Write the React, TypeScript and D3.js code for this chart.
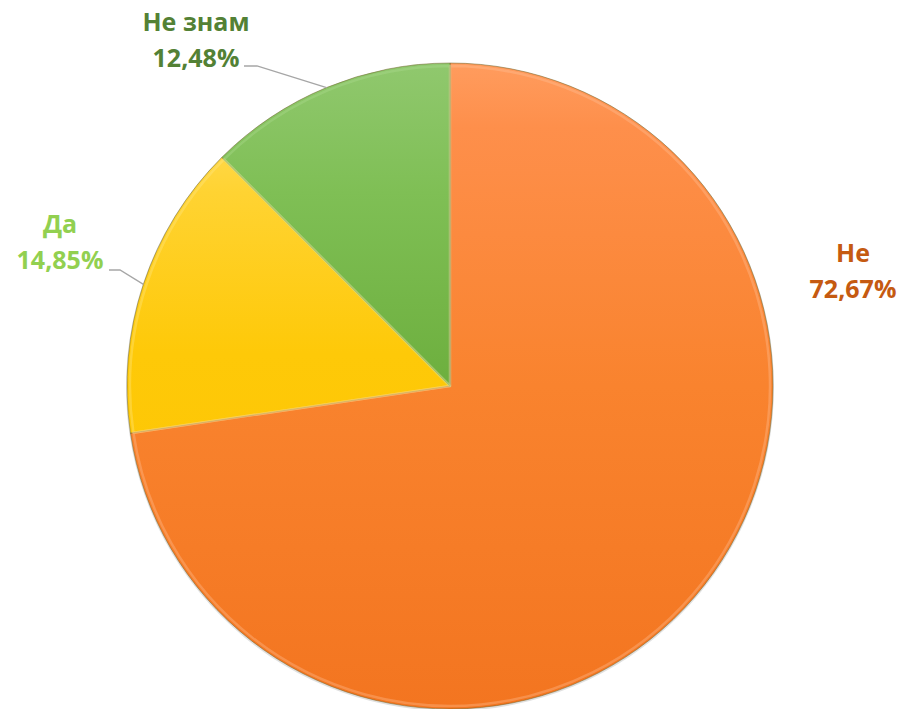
import React from "react";
import * as d3 from "d3";

const categories = ["Не", "Да", "Не знам"];
const values = [72.67, 14.85, 12.48];
const valueLabels = ["72,67%", "14,85%", "12,48%"];

const W = 904, H = 709;
const cx = 450, cy = 386, R = 323;

const palette = [
  { stops: [[0, "#FF9C5E"], [0.1, "#FE8F4B"], [0.5, "#F9832E"], [1, "#F37520"]], edge: "#FFC49A", text: "#C55A11" },
  { stops: [[0, "#FFE274"], [0.2, "#FFD332"], [0.45, "#FEC908"], [1, "#FCC300"]], edge: "#FFE98A", text: "#92D050" },
  { stops: [[0, "#90C86E"], [0.2, "#7FBF55"], [0.5, "#6DAF3E"], [1, "#64A636"]], edge: "#B0DC92", text: "#538135" },
];

export default function App() {
  const pie = d3.pie<number>().sort(null).startAngle(0).endAngle(2 * Math.PI);
  const arcs = pie(values);
  const arc = d3.arc<d3.PieArcDatum<number>>().innerRadius(0).outerRadius(R);
  const arcInner = d3.arc<d3.PieArcDatum<number>>().innerRadius(0).outerRadius(R - 3);

  const labelLayout: { x: number; y: number; leader?: [number, number][] }[] = [];
  arcs.forEach((a, i) => {
    const mid = (a.startAngle + a.endAngle) / 2;
    const ex = cx + R * Math.sin(mid);
    const ey = cy - R * Math.cos(mid);
    if (i === 0) labelLayout.push({ x: 853, y: 262 });
    else if (i === 1)
      labelLayout.push({ x: 60, y: 233, leader: [[109, 270], [120, 270], [ex, ey]] });
    else labelLayout.push({ x: 196, y: 31, leader: [[244, 66], [257, 66], [ex, ey]] });
  });

  return (
    <svg width={W} height={H} style={{ position: "absolute", left: 0, top: 0 }}>
      <defs>
        {palette.map((c, i) => (
          <linearGradient key={i} id={`g${i}`} x1="0" y1={-R} x2="0" y2={R} gradientUnits="userSpaceOnUse">
            {c.stops.map((s, j) => (
              <stop key={j} offset={String(s[0])} stopColor={s[1] as string} />
            ))}
          </linearGradient>
        ))}
      </defs>
      <rect width={W} height={H} fill="#fff" />
      <circle cx={cx} cy={cy + 1} r={R + 1} fill="#000" opacity={0.12} />
      <g transform={`translate(${cx},${cy})`}>
        {arcs.map((a, i) => (
          <path key={i} d={arc(a) || ""} fill={`url(#g${i})`} stroke="rgba(110,100,40,0.5)" strokeWidth={1} strokeLinejoin="round" />
        ))}
        {arcs.map((a, i) => (
          <path key={"e" + i} d={arcInner(a) || ""} fill="none" stroke={palette[i].edge} strokeOpacity={0.35} strokeWidth={2.5} strokeLinejoin="round" />
        ))}
      </g>
      {labelLayout.map((l, i) =>
        l.leader ? (
          <polyline key={"l" + i} points={l.leader.map((p) => p.join(",")).join(" ")} fill="none" stroke="#A6A6A6" strokeWidth={1.3} />
        ) : null
      )}
      {labelLayout.map((l, i) => (
        <text key={"t" + i} x={l.x} y={l.y} textAnchor="middle" fill={palette[i].text}
          style={{ fontFamily: "'Open Sans', sans-serif", fontWeight: 700, fontSize: 25 }}>
          <tspan x={l.x}>{categories[i]}</tspan>
          <tspan x={l.x} dy={36}>{valueLabels[i]}</tspan>
        </text>
      ))}
    </svg>
  );
}
